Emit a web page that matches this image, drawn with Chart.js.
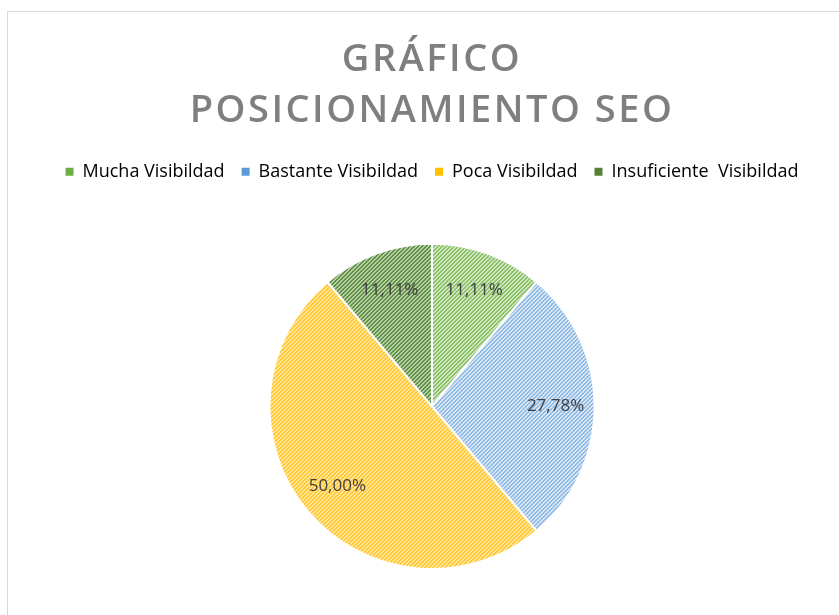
<!DOCTYPE html>
<html>
<head>
<meta charset="utf-8">
<script src="https://cdn.jsdelivr.net/npm/chart.js@4.4.1/dist/chart.umd.min.js"></script>
<style>
  html, body { margin: 0; padding: 0; background: #fff; }
  #frame { position: absolute; left: 7px; top: 11px; width: 900px; height: 700px; border: 1px solid #d9d9d9; }
  #wrap { position: absolute; left: 0; top: 0; width: 839px; height: 615px; }
</style>
</head>
<body>
<div id="frame"></div>
<div id="wrap"><canvas id="myChart"></canvas></div>
<script>
const categorias = ["Mucha Visibildad", "Bastante Visibildad", "Poca Visibildad", "Insuficiente  Visibildad"];
const porcentajes = [11.11, 27.78, 50.00, 11.11];
const colorBase = ["#cde4bd", "#d5e5f5", "#ffe49a", "#b7cfa5"];
const colorRaya = ["#8cc36a", "#92bce3", "#ffc933", "#5f8f45"];
const colorLeyenda = ["#70ad47", "#5b9bd5", "#ffc000", "#548235"];

function trama(base, raya) {
    const c = document.createElement('canvas');
    c.width = 4; c.height = 4;
    const g = c.getContext('2d');
    g.fillStyle = base;
    g.fillRect(0, 0, 4, 4);
    g.fillStyle = raya;
    for (let i = 0; i < 4; i++) {
        g.fillRect(i, 3 - i, 1, 1);
        g.fillRect((i + 1) % 4, 3 - i, 1, 1);
    }
    return g.createPattern(c, 'repeat');
}

// espacio extra bajo la leyenda y espaciado de letras del titulo
const ajustes = {
    id: 'ajustes',
    afterInit(chart) {
        const leg = chart.legend;
        const fitOrig = leg.fit.bind(leg);
        leg.fit = function () { fitOrig(); this.height += 52; };
        const tit = chart.titleBlock;
        const drawOrig = tit.draw.bind(tit);
        tit.draw = function () {
            chart.ctx.save();
            chart.ctx.letterSpacing = '2.5px';
            drawOrig();
            chart.ctx.restore();
        };
    }
};

const etiquetas = {
    id: 'etiquetas',
    afterDatasetsDraw(chart) {
        const ctx = chart.ctx;
        const meta = chart.getDatasetMeta(0);
        ctx.save();
        ctx.font = '17px "Open Sans"';
        ctx.fillStyle = '#404040';
        ctx.textAlign = 'center';
        ctx.textBaseline = 'middle';
        meta.data.forEach((arc, i) => {
            const a = (arc.startAngle + arc.endAngle) / 2;
            const r = arc.outerRadius * 0.76;
            const x = arc.x + Math.cos(a) * r;
            const y = arc.y + Math.sin(a) * r;
            ctx.fillText(porcentajes[i].toFixed(2).replace('.', ',') + '%', x, y);
        });
        ctx.restore();
    }
};

const ctx = document.getElementById("myChart");

new Chart(ctx, {
    type: 'pie',
    data: {
        labels: categorias,
        datasets: [{
            data: porcentajes,
            backgroundColor: colorBase.map((b, i) => trama(b, colorRaya[i])),
            borderColor: '#ffffff',
            borderWidth: 2
        }]
    },
    options: {
        responsive: true,
        maintainAspectRatio: false,
        animation: false,
        layout: { padding: { left: 25, top: 0, bottom: 45, right: 0 } },
        plugins: {
            title: {
                display: true,
                text: ["GRÁFICO", "POSICIONAMIENTO SEO"],
                color: '#7f7f7f',
                font: { family: 'Open Sans', size: 38, weight: 600, lineHeight: 1.34 },
                padding: { top: 35, bottom: 9 }
            },
            legend: {
                position: 'top',
                labels: {
                    usePointStyle: true,
                    pointStyle: 'rect',
                    boxWidth: 8,
                    boxHeight: 8,
                    color: '#595959',
                    font: { family: 'Open Sans', size: 18 },
                    padding: 17,
                    generateLabels(chart) {
                        return categorias.map((c, i) => ({
                            text: c,
                            fillStyle: colorLeyenda[i],
                            strokeStyle: colorLeyenda[i],
                            lineWidth: 0,
                            pointStyle: 'rect',
                            index: i
                        }));
                    }
                }
            },
            tooltip: { enabled: false }
        }
    },
    plugins: [ajustes, etiquetas]
});
</script>
</body>
</html>
